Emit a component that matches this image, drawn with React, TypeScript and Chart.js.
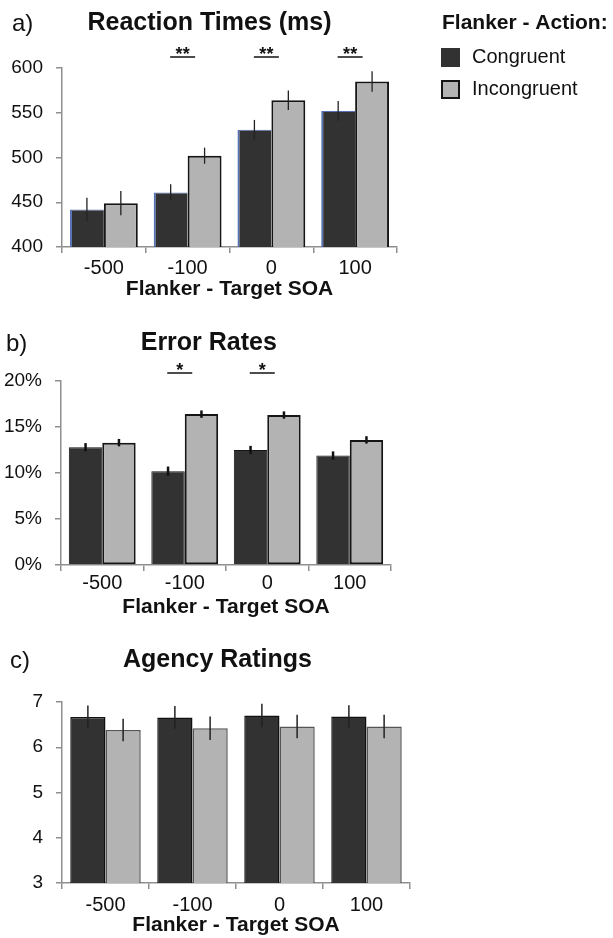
import React, { useEffect, useRef } from 'react';
import { Chart, registerables } from 'chart.js';

Chart.register(...registerables);

const FONT = "'Liberation Sans', Arial, Helvetica, sans-serif";

// Flanker - target SOA conditions
const soaLabels = ['-500', '-100', '0', '100'];
const seriesNames = ['Congruent', 'Incongruent'];
const legendTitle = 'Flanker - Action:';
const xAxisTitle = 'Flanker - Target SOA';

// a) Reaction times (ms)
const rtCongruent = [442, 461, 531, 552];
const rtIncongruent = [449, 502, 564, 585];
const rtCongruentErr = [13, 9, 11, 11];
const rtIncongruentErr = [13.5, 9, 11, 11.5];
const rtMarks = ['', '**', '**', '**'];
const rtTicks = [400, 450, 500, 550, 600];

// b) Error rates (%)
const errCongruent = [12.8, 10.2, 12.5, 11.9];
const errIncongruent = [13.3, 16.4, 16.3, 13.6];
const errCongruentErr = [0.45, 0.5, 0.45, 0.45];
const errIncongruentErr = [0.4, 0.4, 0.4, 0.4];
const errMarks = ['', '*', '*', ''];
const errTicks = [0, 5, 10, 15, 20];

// c) Agency ratings
const agencyCongruent = [6.67, 6.66, 6.7, 6.68];
const agencyIncongruent = [6.38, 6.42, 6.46, 6.46];
const agencyCongruentErr = [0.25, 0.25, 0.26, 0.25];
const agencyIncongruentErr = [0.25, 0.26, 0.26, 0.26];
const agencyTicks = [3, 4, 5, 6, 7];

const DARK = '#323232';
const LIGHT = '#b3b3b3';
const AXIS = '#8f8f8f';
const INK = '#111111';

type Panel = {
  letter: string;
  title: string;
  letterX: number;
  titleX: number;
  titleY: number;
  top: number;
  height: number;
  padTop: number;
  padRight: number;
  yWidth: number;
  xAxisHeight: number;
  xTickPadding: number;
  xTitlePadBottom: number;
  congruent: number[];
  incongruent: number[];
  congruentErr: number[];
  incongruentErr: number[];
  ticks: number[];
  suffix: string;
  marks: string[] | null;
  markGap: number;
  congBorder: string;
  congBorderWidth: any;
  incBorder: string;
  incBorderWidth: number;
  errColor: string;
  errWidth: number;
  legend: boolean;
};

const panels: Panel[] = [
  {
    letter: 'a)', title: 'Reaction Times (ms)', letterX: 12, titleX: 209.5, titleY: 23,
    top: 0, height: 315, padTop: 68, padRight: 216, yWidth: 62, xAxisHeight: 68,
    xTickPadding: 3, xTitlePadBottom: 13,
    congruent: rtCongruent, incongruent: rtIncongruent,
    congruentErr: rtCongruentErr, incongruentErr: rtIncongruentErr,
    ticks: rtTicks, suffix: '', marks: rtMarks, markGap: 11,
    congBorder: '#5673b8', congBorderWidth: { top: 1, left: 2, right: 0, bottom: 0 },
    incBorder: '#151515', incBorderWidth: 2,
    errColor: '#222222', errWidth: 1.3, legend: true,
  },
  {
    letter: 'b)', title: 'Error Rates', letterX: 6, titleX: 208.8, titleY: 28,
    top: 315, height: 315, padTop: 66, padRight: 222, yWidth: 61, xAxisHeight: 65,
    xTickPadding: 0, xTitlePadBottom: 10,
    congruent: errCongruent, incongruent: errIncongruent,
    congruentErr: errCongruentErr, incongruentErr: errIncongruentErr,
    ticks: errTicks, suffix: '%', marks: errMarks, markGap: 8,
    congBorder: '#151515', congBorderWidth: 1,
    incBorder: '#151515', incBorderWidth: 2,
    errColor: '#111111', errWidth: 2.5, legend: false,
  },
  {
    letter: 'c)', title: 'Agency Ratings', letterX: 10, titleX: 217.5, titleY: 30,
    top: 630, height: 308, padTop: 72, padRight: 203, yWidth: 62, xAxisHeight: 55,
    xTickPadding: 4, xTitlePadBottom: 0,
    congruent: agencyCongruent, incongruent: agencyIncongruent,
    congruentErr: agencyCongruentErr, incongruentErr: agencyIncongruentErr,
    ticks: agencyTicks, suffix: '', marks: null, markGap: 0,
    congBorder: '#111111', congBorderWidth: 1.5,
    incBorder: '#555555', incBorderWidth: 1.5,
    errColor: '#222222', errWidth: 1.5, legend: false,
  },
];

function buildConfig(p: Panel): any {
  // error bars drawn over each bar from the dataset's own error values
  const errorBars = {
    id: 'errorBars',
    afterDatasetsDraw(chart: any) {
      const ctx = chart.ctx;
      const ys = chart.scales.y;
      chart.data.datasets.forEach((ds: any, di: number) => {
        const meta = chart.getDatasetMeta(di);
        meta.data.forEach((bar: any, i: number) => {
          const v = ds.data[i];
          const e = ds.errors[i];
          const y1 = ys.getPixelForValue(v + e);
          const y2 = ys.getPixelForValue(v - e);
          ctx.save();
          ctx.strokeStyle = p.errColor;
          ctx.lineWidth = p.errWidth;
          ctx.beginPath();
          ctx.moveTo(bar.x, y1);
          ctx.lineTo(bar.x, y2);
          ctx.stroke();
          ctx.restore();
        });
      });
    },
  };

  // panel letter, title, significance marks and (panel a) legend
  const decorations = {
    id: 'decorations',
    afterDraw(chart: any) {
      const ctx = chart.ctx;
      const area = chart.chartArea;
      ctx.save();
      ctx.fillStyle = INK;
      ctx.textBaseline = 'middle';
      ctx.textAlign = 'left';
      ctx.font = `24px ${FONT}`;
      ctx.fillText(p.letter, p.letterX, p.titleY + 1);
      ctx.textAlign = 'center';
      ctx.font = `bold 25px ${FONT}`;
      ctx.fillText(p.title, p.titleX, p.titleY);

      if (p.marks) {
        const xs = chart.scales.x;
        const lineY = area.top - p.markGap;
        p.marks.forEach((m, i) => {
          if (!m) return;
          const cx = xs.getPixelForValue(i) - 5;
          ctx.strokeStyle = INK;
          ctx.lineWidth = 1.5;
          ctx.beginPath();
          ctx.moveTo(cx - 12.5, lineY);
          ctx.lineTo(cx + 12.5, lineY);
          ctx.stroke();
          ctx.textBaseline = 'alphabetic';
          ctx.textAlign = 'center';
          ctx.font = `bold 18px ${FONT}`;
          ctx.fillText(m, cx, lineY + 3);
        });
      }

      if (p.legend) {
        ctx.textAlign = 'left';
        ctx.textBaseline = 'middle';
        ctx.font = `bold 21px ${FONT}`;
        ctx.fillStyle = INK;
        ctx.fillText(legendTitle, 442, 23);
        chart.data.datasets.forEach((ds: any, di: number) => {
          const sy = 48 + di * 32;
          ctx.fillStyle = ds.backgroundColor;
          ctx.fillRect(441, sy, 19, 19);
          if (di === 1) {
            ctx.strokeStyle = ds.borderColor;
            ctx.lineWidth = 2;
            ctx.strokeRect(442, sy + 1, 17, 17);
          }
          ctx.fillStyle = INK;
          ctx.font = `20px ${FONT}`;
          ctx.fillText(ds.label, 472, sy + 9.5);
        });
      }
      ctx.restore();
    },
  };

  const tickMin = p.ticks[0];
  const tickMax = p.ticks[p.ticks.length - 1];
  const step = p.ticks[1] - p.ticks[0];

  return {
    type: 'bar',
    data: {
      labels: soaLabels,
      datasets: [
        {
          label: seriesNames[0],
          data: p.congruent,
          errors: p.congruentErr,
          backgroundColor: DARK,
          borderColor: p.congBorder,
          borderWidth: p.congBorderWidth,
          borderSkipped: 'start',
          categoryPercentage: 0.81,
          barPercentage: 1,
        },
        {
          label: seriesNames[1],
          data: p.incongruent,
          errors: p.incongruentErr,
          backgroundColor: LIGHT,
          borderColor: p.incBorder,
          borderWidth: p.incBorderWidth,
          borderSkipped: false,
          categoryPercentage: 0.81,
          barPercentage: 1,
        },
      ],
    },
    options: {
      responsive: false,
      animation: false,
      events: [],
      layout: { padding: { top: p.padTop, right: p.padRight, left: 0, bottom: 0 } },
      plugins: { legend: { display: false }, tooltip: { enabled: false }, title: { display: false } },
      scales: {
        x: {
          type: 'category',
          offset: true,
          afterFit: (s: any) => { s.height = p.xAxisHeight; },
          grid: { offset: true, drawOnChartArea: false, drawTicks: true, tickLength: 6, color: AXIS, lineWidth: 1.5 },
          border: { color: AXIS, width: 1.5 },
          ticks: { color: INK, font: { family: FONT, size: 20 }, padding: p.xTickPadding, maxRotation: 0 },
          title: {
            display: true,
            text: xAxisTitle,
            color: INK,
            font: { family: FONT, size: 21, weight: 'bold' },
            padding: { top: 0, bottom: p.xTitlePadBottom },
          },
        },
        y: {
          min: tickMin,
          max: tickMax,
          afterFit: (s: any) => { s.width = p.yWidth; },
          grid: { drawOnChartArea: false, drawTicks: true, tickLength: 6, color: AXIS, lineWidth: 1.5 },
          border: { color: AXIS, width: 1.5 },
          ticks: {
            stepSize: step,
            color: INK,
            padding: 13,
            font: { family: FONT, size: 19 },
            callback: (v: any) => `${v}${p.suffix}`,
          },
        },
      },
    },
    plugins: [errorBars, decorations],
  };
}

function PanelChart({ panel }: { panel: Panel }) {
  const ref = useRef<HTMLCanvasElement>(null);
  useEffect(() => {
    if (!ref.current) return;
    const chart = new Chart(ref.current, buildConfig(panel));
    return () => chart.destroy();
  }, [panel]);
  return (
    <canvas
      ref={ref}
      width={613}
      height={panel.height}
      style={{ position: 'absolute', left: 0, top: panel.top, width: 613, height: panel.height }}
    />
  );
}

export default function App() {
  return (
    <div style={{ position: 'fixed', left: 0, top: 0, width: 613, height: 938, background: '#ffffff', overflow: 'hidden' }}>
      {panels.map((p) => (
        <PanelChart key={p.letter} panel={p} />
      ))}
    </div>
  );
}
